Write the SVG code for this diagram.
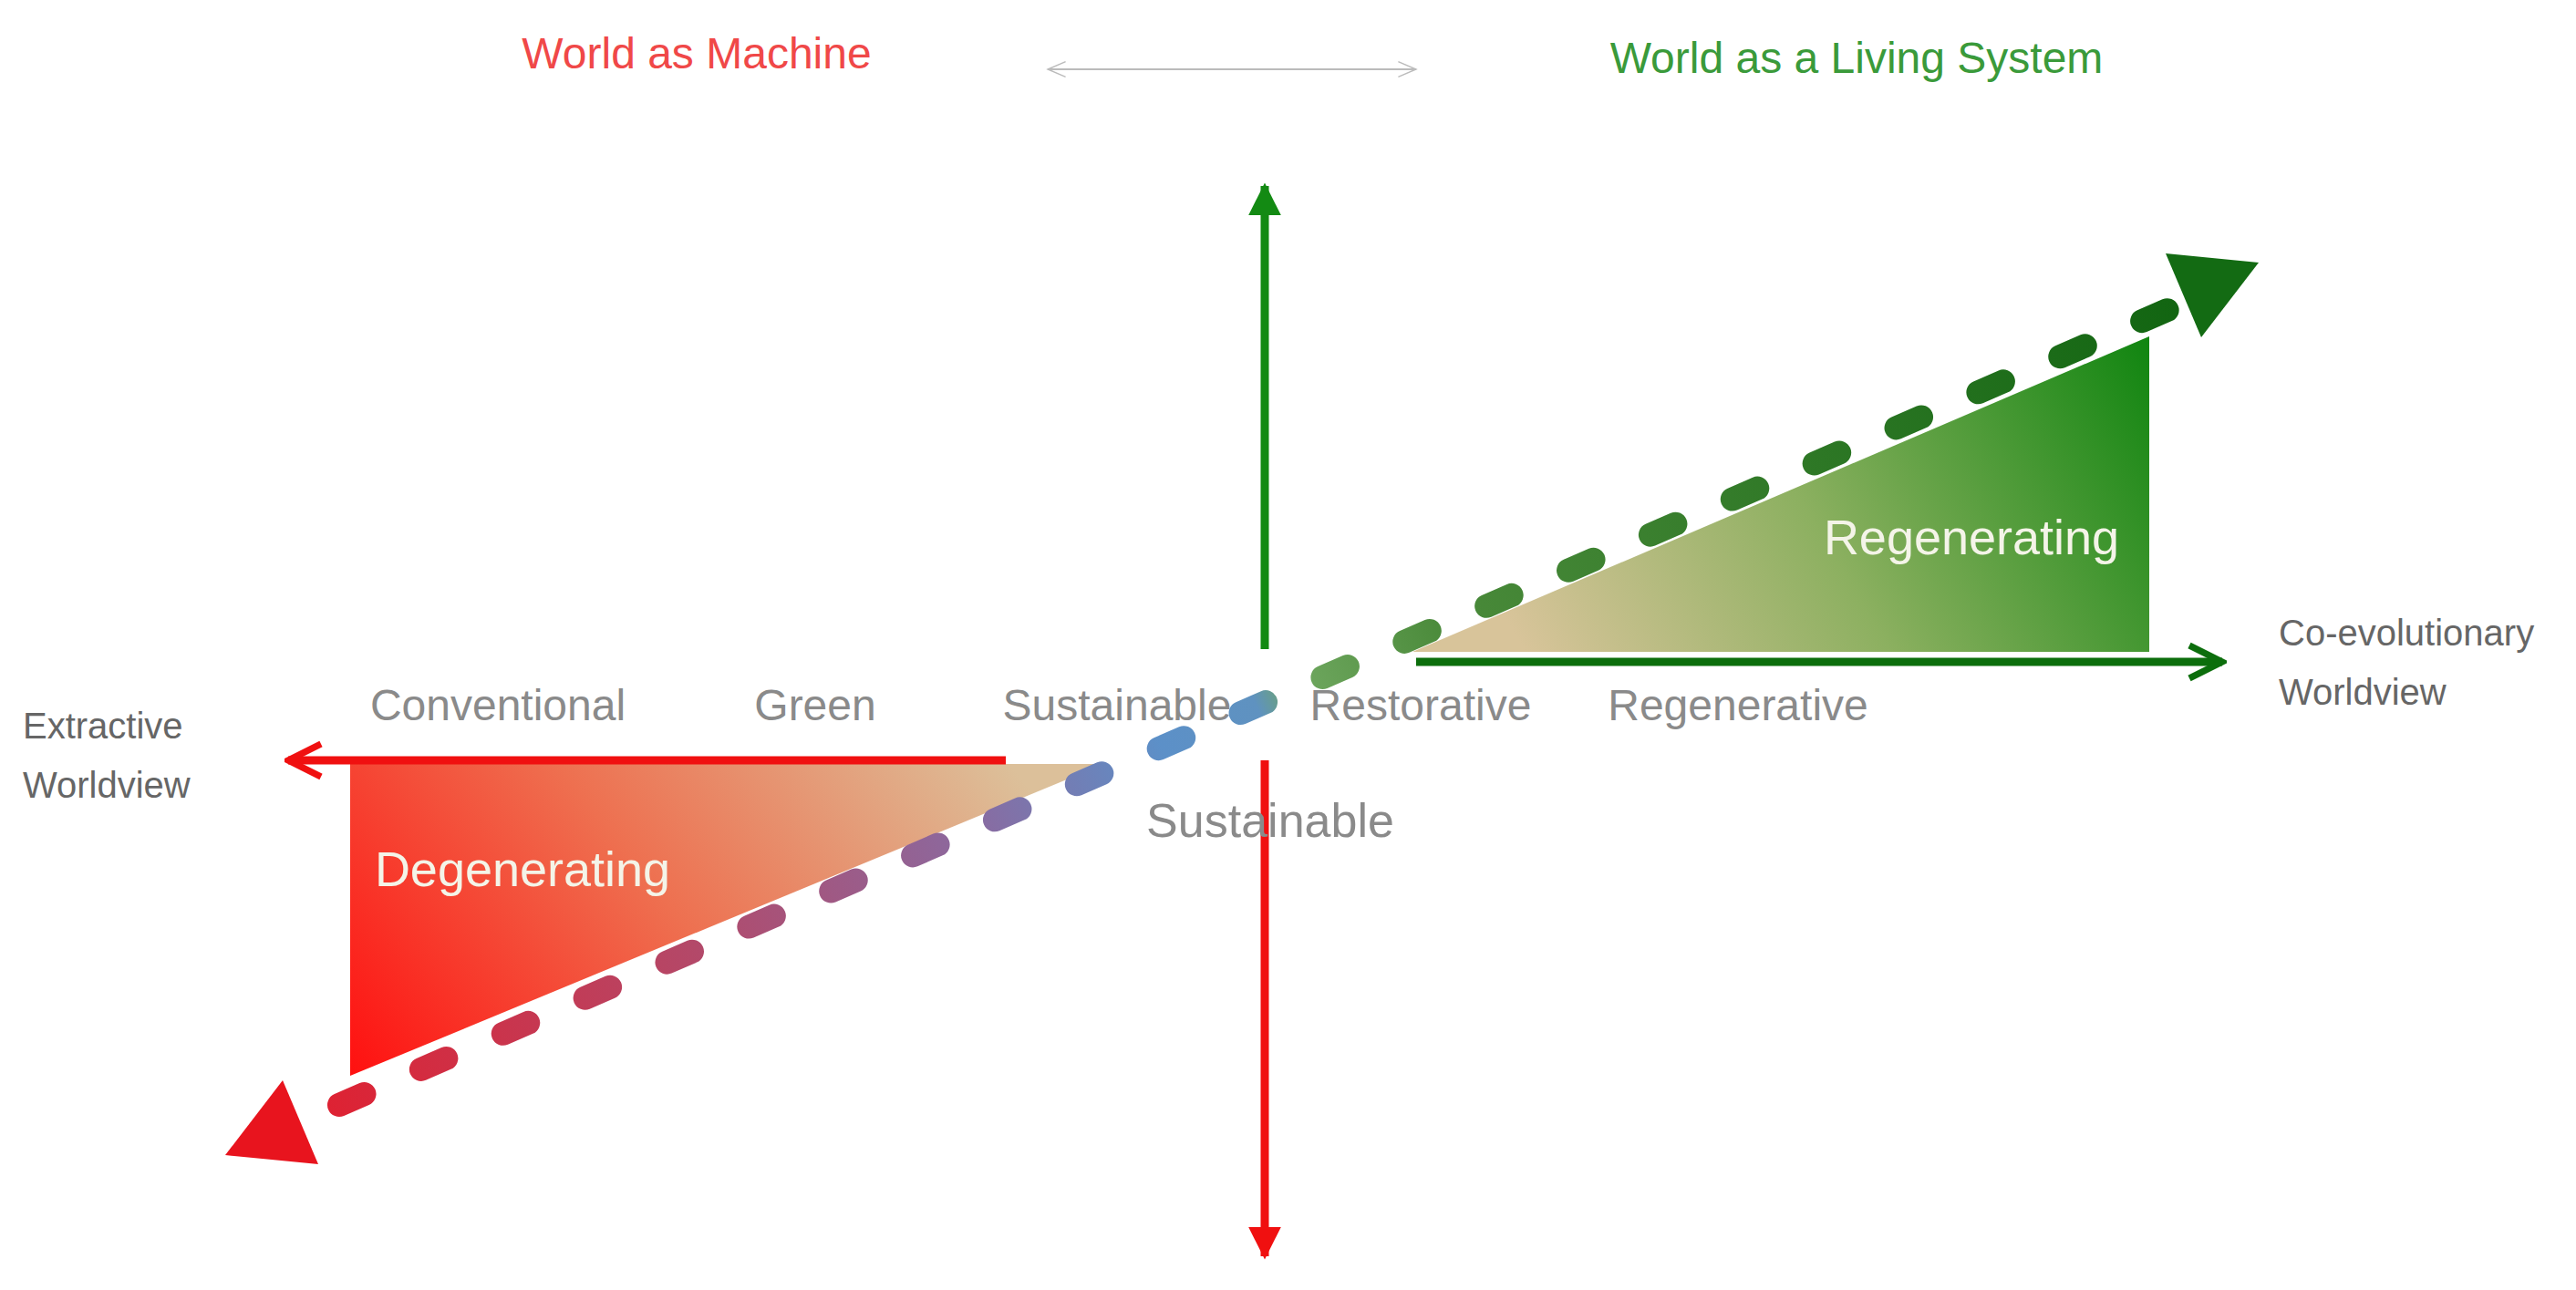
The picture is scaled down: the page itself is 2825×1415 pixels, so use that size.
<svg xmlns="http://www.w3.org/2000/svg" width="2825" height="1415" viewBox="0 0 2825 1415">
<style>
.t{font-family:"Liberation Sans",Arial,sans-serif;fill:#8a8a8a}
.w{font-family:"Liberation Sans",Arial,sans-serif;fill:#f4f4e8}
</style>
<defs>
<marker id="fg" viewBox="0 0 10 10" refX="9" refY="5" markerWidth="4" markerHeight="4" orient="auto"><path d="M0,0L10,5L0,10z" fill="#138a13"/></marker>
<marker id="fr" viewBox="0 0 10 10" refX="9" refY="5" markerWidth="4" markerHeight="4" orient="auto"><path d="M0,0L10,5L0,10z" fill="#f01010"/></marker>
<marker id="og" viewBox="0 0 10 10" refX="9" refY="5" markerWidth="5" markerHeight="5" orient="auto"><path d="M1,1L9,5L1,9" fill="none" stroke="#0c6e0c" stroke-width="1.6"/></marker>
<marker id="or" viewBox="0 0 10 10" refX="9" refY="5" markerWidth="5" markerHeight="5" orient="auto"><path d="M1,1L9,5L1,9" fill="none" stroke="#f01010" stroke-width="1.6"/></marker>
<marker id="ogr" viewBox="0 0 10 10" refX="9" refY="5" markerWidth="14" markerHeight="14" orient="auto-start-reverse"><path d="M2,2L9,5L2,8" fill="none" stroke="#bbbbbb" stroke-width="0.5"/></marker>
<linearGradient id="gr" x1="384" y1="1180" x2="1000" y2="700" gradientUnits="userSpaceOnUse"><stop offset="0" stop-color="#ff1010"/><stop offset="0.5" stop-color="#ee7050"/><stop offset="1" stop-color="#dcc09a"/></linearGradient>
<linearGradient id="gg" x1="1700" y1="760" x2="2357" y2="369" gradientUnits="userSpaceOnUse"><stop offset="0" stop-color="#d8c49a"/><stop offset="0.45" stop-color="#8cb060"/><stop offset="1" stop-color="#108510"/></linearGradient>
<linearGradient id="gd" x1="342" y1="1225" x2="2414" y2="324" gradientUnits="userSpaceOnUse"><stop offset="0" stop-color="#e02030"/><stop offset="0.2" stop-color="#b44868"/><stop offset="0.35" stop-color="#8a6aa0"/><stop offset="0.45" stop-color="#5c90c8"/><stop offset="0.5" stop-color="#5f92c0"/><stop offset="0.52" stop-color="#70a860"/><stop offset="0.6" stop-color="#4a8a3a"/><stop offset="1" stop-color="#106410"/></linearGradient>
</defs>
<g id="triangles">
<polygon points="384,838 1211,838 384,1180" fill="url(#gr)"/>
<polygon points="1549,715 2357,715 2357,369" fill="url(#gg)"/>
</g>
<g id="connectors">
<line x1="1149" y1="76" x2="1553" y2="76" stroke="#bbbbbb" stroke-width="2" marker-start="url(#ogr)" marker-end="url(#ogr)"/>
<line x1="1387" y1="712" x2="1387" y2="204" stroke="#138a13" stroke-width="9" marker-end="url(#fg)"/>
<line x1="1387" y1="834" x2="1387" y2="1378" stroke="#f01010" stroke-width="9" marker-end="url(#fr)"/>
<line x1="1103" y1="834" x2="316" y2="834" stroke="#f01010" stroke-width="9" marker-end="url(#or)"/>
<line x1="1553" y1="726" x2="2437" y2="726" stroke="#0c6e0c" stroke-width="9" marker-end="url(#og)"/>
<line x1="372" y1="1212" x2="2384" y2="337" stroke="url(#gd)" stroke-width="26" stroke-linecap="round" stroke-dasharray="30,68"/>
<polygon points="247,1267 349,1277 310,1185" fill="#e8141e"/>
<polygon points="2477,288 2414,370 2375,278" fill="#136b13"/>
</g>
<g id="labels">
<text class="t" x="764" y="75" text-anchor="middle" font-size="48" style="fill:#f04848">World as Machine</text>
<text class="t" x="2036" y="80" text-anchor="middle" font-size="48" style="fill:#3a9a3a">World as a Living System</text>
<text class="t" x="546" y="790" text-anchor="middle" font-size="48">Conventional</text>
<text class="t" x="894" y="790" text-anchor="middle" font-size="48">Green</text>
<text class="t" x="1225" y="790" text-anchor="middle" font-size="48">Sustainable</text>
<text class="t" x="1558" y="790" text-anchor="middle" font-size="48">Restorative</text>
<text class="t" x="1906" y="790" text-anchor="middle" font-size="48">Regenerative</text>
<text class="t" x="1393" y="918" text-anchor="middle" font-size="52">Sustainable</text>
<text class="t" x="25" y="810" font-size="40" style="fill:#666">Extractive</text>
<text class="t" x="25" y="875" font-size="40" style="fill:#666">Worldview</text>
<text class="t" x="2499" y="708" font-size="40" style="fill:#666">Co-evolutionary</text>
<text class="t" x="2499" y="773" font-size="40" style="fill:#666">Worldview</text>
<text class="w" x="573" y="972" text-anchor="middle" font-size="54">Degenerating</text>
<text class="w" x="2162" y="608" text-anchor="middle" font-size="54">Regenerating</text>
</g>
</svg>
